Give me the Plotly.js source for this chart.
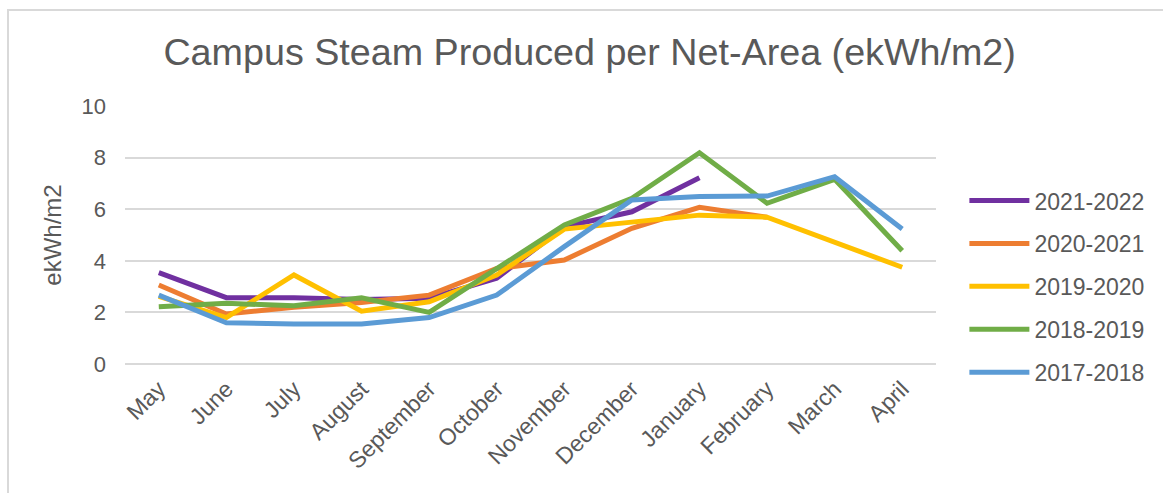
<!DOCTYPE html>
<html>
<head>
<meta charset="utf-8">
<script src="https://cdn.plot.ly/plotly-3.0.1.min.js"></script>
<style>
  html, body { margin: 0; padding: 0; background: #fff; }
  #frame { position: absolute; left: 7px; top: 9px; width: 1300px; height: 700px; border: 2px solid #d9d9d9; box-sizing: border-box; }
  #chart { position: absolute; left: 0; top: 0; width: 1163px; height: 493px; }
</style>
</head>
<body>
<div id="frame"></div>
<div id="chart"></div>
<script>
const months = ["May","June","July","August","September","October","November","December","January","February","March","April"];
const seriesNames = ["2021-2022","2020-2021","2019-2020","2018-2019","2017-2018"];
const colors = ["#7030A0","#ED7D31","#FFC000","#70AD47","#5B9BD5"];
const y2021_2022 = [3.54, 2.57, 2.57, 2.50, 2.55, 3.32, 5.32, 5.90, 7.22, null, null, null];
const y2020_2021 = [3.06, 1.94, 2.20, 2.38, 2.67, 3.70, 4.03, 5.26, 6.07, 5.69, null, null];
const y2019_2020 = [2.62, 1.80, 3.45, 2.05, 2.41, 3.45, 5.23, 5.52, 5.77, 5.69, 4.72, 3.75];
const y2018_2019 = [2.22, 2.35, 2.26, 2.57, 2.00, 3.70, 5.39, 6.42, 8.19, 6.23, 7.16, 4.39];
const y2017_2018 = [2.67, 1.60, 1.55, 1.55, 1.80, 2.67, 4.55, 6.36, 6.49, 6.51, 7.26, 5.23];
const allSeries = [y2021_2022, y2020_2021, y2019_2020, y2018_2019, y2017_2018];

const traces = allSeries.map((ys, i) => ({
  type: "scatter",
  mode: "lines",
  x: months,
  y: ys,
  name: seriesNames[i],
  legendgroup: "g" + i,
  line: { color: colors[i], width: 5 },
  connectgaps: false,
  hoverinfo: "x+y+name"
}));

const fontFam = "Liberation Sans, Arial, sans-serif";
const layout = {
  width: 1163, height: 493,
  paper_bgcolor: "rgba(0,0,0,0)",
  plot_bgcolor: "rgba(0,0,0,0)",
  margin: { l: 125, r: 227, t: 106, b: 129 },
  title: {
    text: "Campus Steam Produced per Net-Area (ekWh/m2)",
    font: { family: fontFam, size: 37.7, color: "#595959" },
    x: 0.507, xanchor: "center", y: 0.895, yanchor: "middle"
  },
  font: { family: fontFam, color: "#595959" },
  xaxis: {
    type: "category",
    range: [-0.5, 11.5],
    tickangle: -45,
    tickfont: { size: 23, color: "#595959" },
    showgrid: false,
    showline: false,
    zeroline: false,
    ticks: "",
    ticklabelstandoff: 6,
    fixedrange: true
  },
  yaxis: {
    range: [0, 10],
    dtick: 2,
    tickfont: { size: 22, color: "#595959" },
    showgrid: true,
    gridcolor: "#d9d9d9",
    gridwidth: 1.5,
    zeroline: true,
    zerolinecolor: "#d9d9d9",
    zerolinewidth: 1.5,
    showline: false,
    ticks: "",
    ticklabelstandoff: 18,
    title: { text: "ekWh/m2", font: { size: 24, color: "#595959" }, standoff: 13 },
    fixedrange: true
  },
  showlegend: true,
  legend: {
    x: 1.035, xanchor: "left",
    y: 0.3, yanchor: "middle",
    font: { size: 23, color: "#595959" },
    traceorder: "grouped",
    tracegroupgap: 10,
    itemwidth: 60,
    bgcolor: "rgba(0,0,0,0)"
  }
};

Plotly.newPlot("chart", traces, layout, { displayModeBar: false, staticPlot: false });
</script>
</body>
</html>
